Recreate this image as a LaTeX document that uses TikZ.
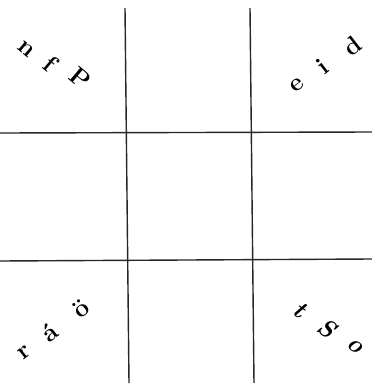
\documentclass[tikz,border=0pt]{standalone}
\begin{document}
\begin{tikzpicture}[x=1pt,y=-1pt,
  gridline/.style={line width=1.4pt,black!85},
  glyph/.style={inner sep=0pt,font=\fontsize{25}{27}\selectfont\bfseries}]
\useasboundingbox (0,0) rectangle (372,386);
\coordinate (v1t) at (125,8);
\coordinate (v1b) at (129,383);
\coordinate (v2t) at (250,8);
\coordinate (v2b) at (254,383);
\coordinate (h1l) at (0,133);
\coordinate (h1r) at (372,132);
\coordinate (h2l) at (0,261);
\coordinate (h2r) at (372,259);
\draw[gridline] (v1t) -- (v1b);
\draw[gridline] (v2t) -- (v2b);
\draw[gridline] (h1l) -- (h1r);
\draw[gridline] (h2l) -- (h2r);
% top left
\node[glyph,rotate=-40] (n) at (26,49) {n};
\node[glyph,rotate=-40] (f) at (50,64) {f};
\node[glyph,rotate=-40] (P) at (80,78) {P};
% top right
\node[glyph,rotate=38] (e) at (297,85) {e};
\node[glyph,rotate=38] (i) at (322,66) {i};
\node[glyph,rotate=38] (d) at (352,46) {d};
% bottom left
\node[glyph,rotate=38] (r) at (25,353) {r};
\node[glyph,rotate=38] (a) at (50,332) {á};
\node[glyph,rotate=38] (o) at (81,309) {ö};
% bottom right
\node[glyph,rotate=-35] (t) at (300,310) {\itshape t};
\node[glyph,rotate=-35] (S) at (327,328) {\itshape S};
\node[glyph,rotate=-35] (oo) at (355,346) {\itshape o};
\end{tikzpicture}
\end{document}
